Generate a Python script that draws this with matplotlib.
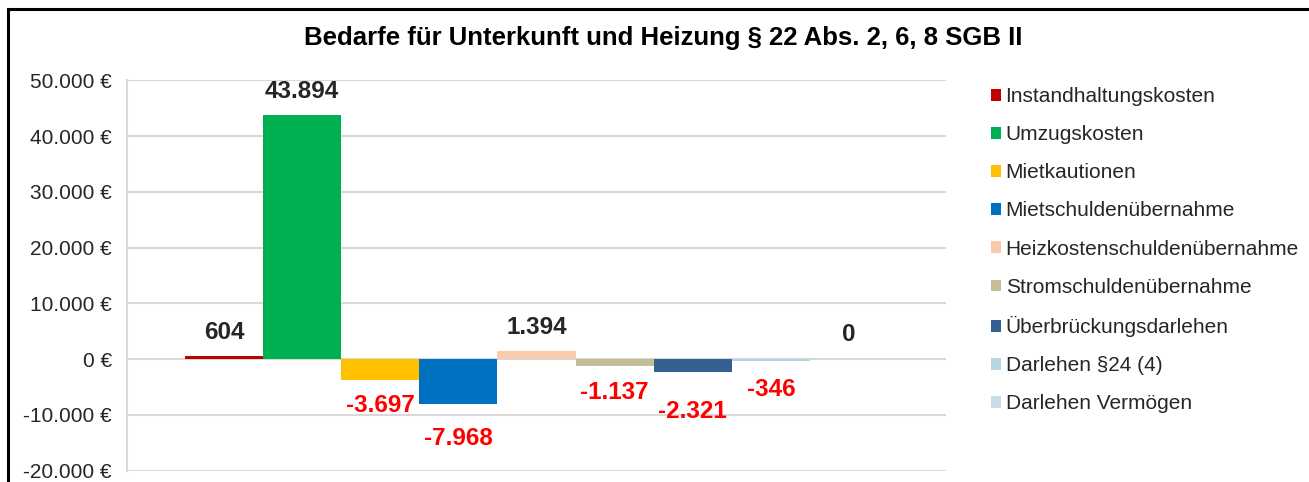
import numpy as np
import matplotlib
matplotlib.use("Agg")
import matplotlib.pyplot as plt
from matplotlib.patches import Patch, Rectangle

plt.rcParams['font.family'] = ['Liberation Sans', 'DejaVu Sans']

# ------------------------------
# Daten
kategorien = ["Instandhaltungskosten", "Umzugskosten", "Mietkautionen",
              "Mietschuldenübernahme", "Heizkostenschuldenübernahme",
              "Stromschuldenübernahme", "Überbrückungsdarlehen",
              "Darlehen §24 (4)", "Darlehen Vermögen"]
werte = [604, 43894, -3697, -7968, 1394, -1137, -2321, -346, 0]
farben = ["#C00000", "#00B050", "#FFC000", "#0070C0", "#F8CBAD",
          "#C4BD97", "#365F91", "#B7D5E2", "#C9DDE8"]
y_ticks = [-20000, -10000, 0, 10000, 20000, 30000, 40000, 50000]

# Abstand der Beschriftungen zum Balkenende (Pixel)
label_abstand = [23, 23, 26, 35, 24, 27, 39, 28, 25]

def euro(v):
    return f"{int(v):,}".replace(",", ".") + " €"

def zahl(v):
    return f"{int(v):,}".replace(",", ".")

# ------------------------------
# Diagramm
fig = plt.figure(figsize=(13.09, 4.82), dpi=100)
ax = fig.add_axes([0.0970, 0.0234, 0.6257, 0.8096])

x = np.arange(len(werte))
ax.bar(x, werte, width=1.0, color=farben, zorder=3)

ax.set_xlim(-0.5 - 0.74, len(werte) - 0.5 + 0.74)
ax.set_ylim(-20000, 50000)
ax.set_yticks(y_ticks)
ax.set_yticklabels([euro(v) for v in y_ticks], fontsize=15, color="#262626")
ax.set_xticks([])
ax.tick_params(axis="y", length=0, pad=11)
ax.grid(axis="y", color="#D9D9D9", linewidth=1.5, zorder=0)
for s in ["top", "right", "bottom"]:
    ax.spines[s].set_visible(False)
ax.spines["left"].set_color("#D9D9D9")
ax.spines["left"].set_linewidth(1.5)

# Datenbeschriftungen
for xi, v, d in zip(x, werte, label_abstand):
    if v >= 0:
        ax.annotate(zahl(v), (xi, v), xytext=(0, d * 0.72), textcoords="offset points",
                    ha="center", va="center", fontsize=17.5, fontweight="bold",
                    color="#262626")
    else:
        ax.annotate(zahl(v), (xi, v), xytext=(0, -d * 0.72), textcoords="offset points",
                    ha="center", va="center", fontsize=17.5, fontweight="bold",
                    color="#FF0000")

fig.text(663.5 / 1309, 1 - 38 / 482, "Bedarfe für Unterkunft und Heizung § 22 Abs. 2, 6, 8 SGB II",
         ha="center", va="center", fontsize=18.5, fontweight="bold", color="black")

handles = [Patch(facecolor=c, edgecolor="none") for c in farben]
fig.legend(handles, kategorien, loc="upper left", bbox_to_anchor=(991 / 1309, 1 - 87 / 482),
           frameon=False, fontsize=15, handlelength=0.5, handleheight=0.5,
           handletextpad=0.2, labelspacing=0.92, borderpad=0, borderaxespad=0,
           labelcolor="#262626")

# Rahmen
fig.add_artist(Rectangle((8 / 1309, -0.5), 2.0, 1.5 - 9 / 482, transform=fig.transFigure,
                         fill=False, edgecolor="black", linewidth=2.2, clip_on=False))

fig.savefig("out.png", dpi=100)
